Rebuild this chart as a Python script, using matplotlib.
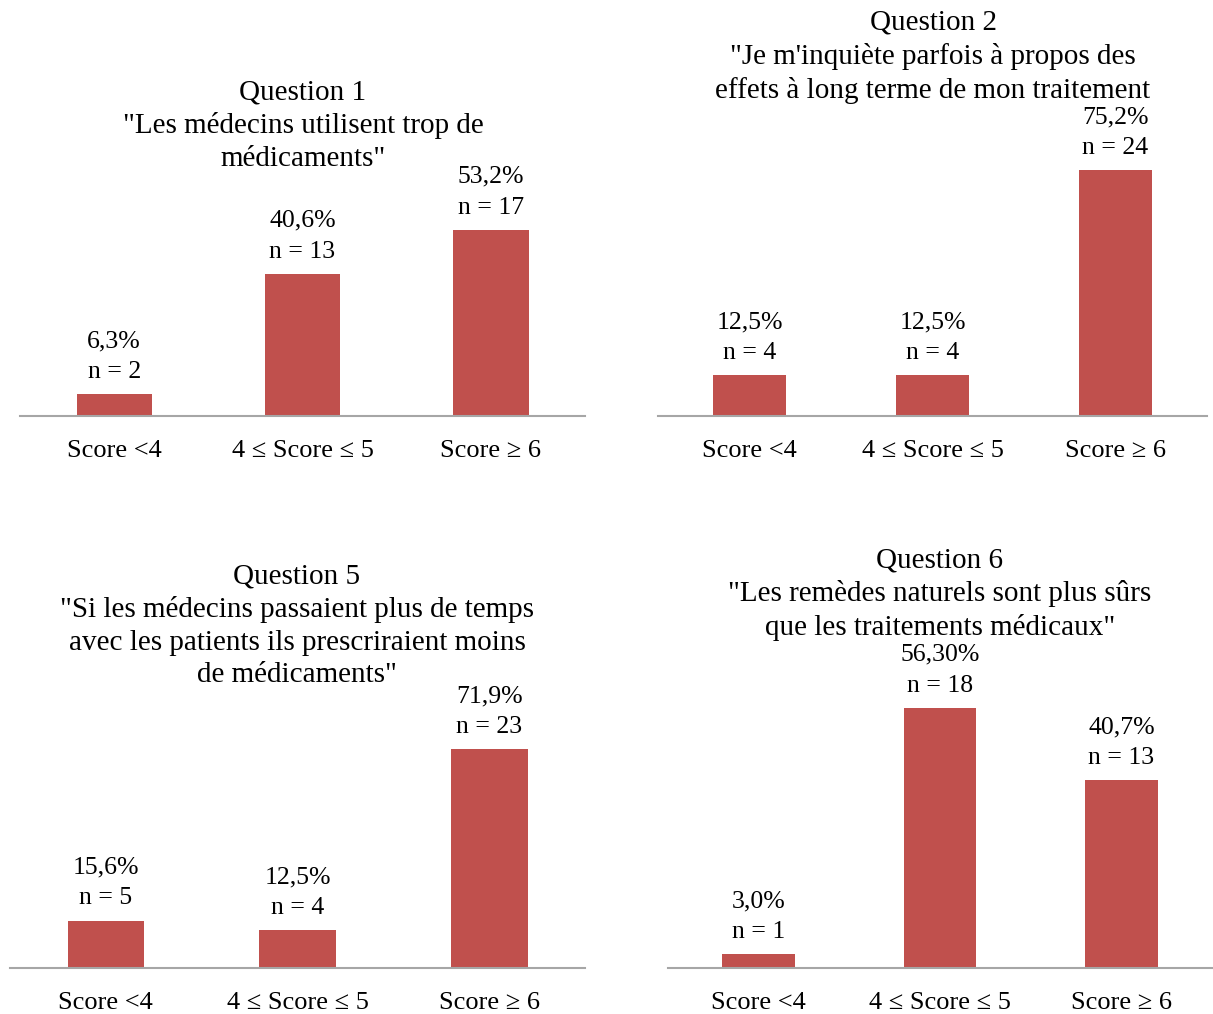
import matplotlib
matplotlib.use('Agg')
import matplotlib.pyplot as plt

plt.rcParams['font.family'] = ['Liberation Serif', 'DejaVu Serif']

categories = ["Score <4", "4 \u2264 Score \u2264 5", "Score \u2265 6"]

q1_pct = [6.3, 40.6, 53.2]
q1_n = [2, 13, 17]
q1_lbl = ["6,3%", "40,6%", "53,2%"]

q2_pct = [12.5, 12.5, 75.2]
q2_n = [4, 4, 24]
q2_lbl = ["12,5%", "12,5%", "75,2%"]

q5_pct = [15.6, 12.5, 71.9]
q5_n = [5, 4, 23]
q5_lbl = ["15,6%", "12,5%", "71,9%"]

q6_pct = [3.0, 56.3, 40.7]
q6_n = [1, 18, 13]
q6_lbl = ["3,0%", "56,30%", "40,7%"]

titles = [
    'Question 1\n"Les médecins utilisent trop de\nmédicaments"',
    'Question 2\n"Je m\'inquiète parfois à propos des\neffets à long terme de mon traitement',
    'Question 5\n"Si les médecins passaient plus de temps\navec les patients ils prescriraient moins\nde médicaments"',
    'Question 6\n"Les remèdes naturels sont plus sûrs\nque les traitements médicaux"',
]

W, H = 1213, 1014
BAR = '#C0504D'
AXIS = '#A6A6A6'

# layout en pixels : gauche, droite, haut, ligne de base, px par %, centre titre, haut titre
panels = [
    (q1_pct, q1_n, q1_lbl, 20, 585, 10, 416, 3.5, 303, 79),
    (q2_pct, q2_n, q2_lbl, 658, 1207, 10, 416, 3.27, 933, 10),
    (q5_pct, q5_n, q5_lbl, 10, 585, 540, 968, 3.04, 297, 563),
    (q6_pct, q6_n, q6_lbl, 668, 1212, 540, 968, 4.62, 940, 547),
]

fig = plt.figure(figsize=(W / 100, H / 100), dpi=100)

for (pct, n, lbl, x0, x1, top, base, pxper, tx, ty), title in zip(panels, titles):
    ax = fig.add_axes([x0 / W, 1 - base / H, (x1 - x0) / W, (base - top) / H])
    xs = range(len(categories))
    ax.bar(xs, pct, width=0.4, color=BAR, zorder=2)
    ax.set_xlim(-0.5, 2.5)
    ax.set_ylim(0, (base - top) / pxper)
    for s in ['top', 'left', 'right']:
        ax.spines[s].set_visible(False)
    ax.spines['bottom'].set_color(AXIS)
    ax.spines['bottom'].set_linewidth(1.5)
    ax.set_yticks([])
    ax.set_xticks(list(xs))
    ax.set_xticklabels(categories, fontsize=19)
    ax.tick_params(axis='x', length=0, pad=17)
    ax.set_facecolor('none')
    for x, p, k, l in zip(xs, pct, n, lbl):
        ax.annotate(f"{l}\nn = {k}", (x, p), xytext=(0, 8), textcoords='offset points',
                    ha='center', va='bottom', fontsize=18.5, linespacing=1.52)
    fig.text(tx / W, 1 - ty / H, title, ha='center', va='top', fontsize=21,
             linespacing=1.33)

fig.savefig('out.png', dpi=100)
